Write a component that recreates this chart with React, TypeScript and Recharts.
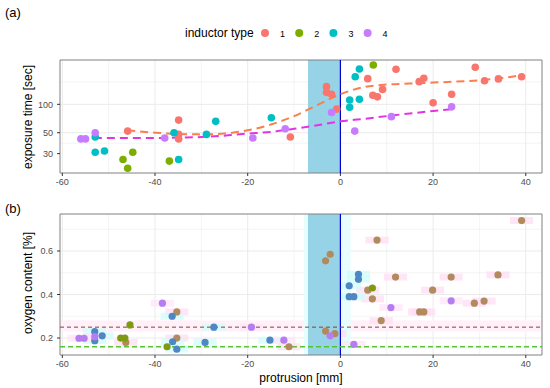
import {
  CartesianGrid,
  ComposedChart,
  Line,
  ReferenceArea,
  ReferenceLine,
  Scatter,
  XAxis,
  YAxis,
} from 'recharts';

// axis breaks
const xTicks = [-60, -40, -20, 0, 20, 40];
const xMinor = [-50, -30, -10, 10, 30];
const timeTicks = [30, 50, 100];
const timeMinor = [38.7, 173];
const oxyTicks = [0.2, 0.4, 0.6];
const oxyMinor = [0.3, 0.5, 0.7];
const inductorTypes = ['1', '2', '3', '4'];

// (a) exposure time [sec] per inductor type
const t1X = [-45.9, -34.9, -34.9, -34.9, -10.8, -3.0, -3.0, -1.9, -0.8, 5.9, 12.0, 7.0, 8.0, 9.1, 17.0, 18.0, 20.0, 24.0, 29.1, 31.1, 34.1, 39.1];
const t1Y = [52, 68, 48, 43, 45, 154, 134, 128, 89, 187, 235, 125, 120, 144, 174, 189, 104, 128, 247, 178, 186, 196];
const t2X = [-46.9, -45.9, -44.8, -36.9, 7.1];
const t2Y = [26, 21, 31, 25, 261];
const t3X = [-52.9, -52.9, -50.9, -35.9, -34.9, -28.9, -26.9, -14.9, 2.0, 2.0, 3.2, 4.1, 4.1];
const t3Y = [45, 31, 32, 50, 26, 48, 66, 72, 111, 93, 196, 237, 113];
const t4X = [-56.0, -55.0, -52.9, -37.9, -18.9, -11.9, -1.9, 3.1, 11.0, 24.0];
const t4Y = [43, 43, 50, 44, 44, 55, 82, 52, 74, 94];

// (a) dashed trends
const fit1X = [-46, -40, -35, -30, -25, -20, -15, -10, -5, 0, 5, 10, 15, 20, 25, 30, 35, 39];
const fit1Y = [53, 50, 48.5, 48, 49, 53, 61, 75, 98, 128, 152, 162, 166, 170, 174, 180, 190, 204];
const fit4X = [-56, -50, -40, -35, -30, -25, -20, -15, -10, -5, 0, 5, 10, 15, 20, 24];
const fit4Y = [44, 44, 44, 44.5, 45, 46.5, 49, 51, 55, 60, 66, 70, 75, 80, 85, 89];

// (b) oxygen content [%] per inductor type
const o1X = [-46.3, -35.3, -35.3, -11.1, -3.2, -2.2, -3.2, -1.2, 5.9, 6.9, 7.9, 8.8, 11.9, 17.1, 18.0, 19.9, 23.9, 28.9, 31.0, 34.0, 39.1];
const o1Y = [0.18, 0.32, 0.2, 0.16, 0.555, 0.585, 0.232, 0.22, 0.42, 0.38, 0.65, 0.28, 0.48, 0.32, 0.32, 0.42, 0.48, 0.36, 0.37, 0.49, 0.74];
const o2X = [-47.4, -46.5, -45.4, -37.4, 6.9];
const o2Y = [0.2, 0.2, 0.26, 0.16, 0.43];
const o3X = [-53.0, -53.0, -51.4, -36.3, -36.2, -35.3, -29.2, -27.3, -15.2, 1.9, 1.9, 2.9, 3.9, 3.9];
const o3Y = [0.229, 0.188, 0.21, 0.3, 0.183, 0.149, 0.18, 0.25, 0.19, 0.44, 0.39, 0.39, 0.493, 0.47];
const o4X = [-56.4, -55.3, -53.0, -38.4, -19.2, -12.2, -2.2, 2.9, 10.9, 23.9];
const o4Y = [0.199, 0.199, 0.206, 0.36, 0.25, 0.19, 0.21, 0.171, 0.34, 0.371];

const limit1 = 0.25;
const limit2 = 0.16;
const zoneX = [-7, 0];

const xDomain = [-60.5, 43.5];
const timeDomain = [18.7, 295];
const oxyDomain = [0.122, 0.77];

const typeColors = ['#F8766D', '#7CAE00', '#00BFC4', '#C77CFF'];
const oxyColors = ['#b38a5e', '#7d9a12', '#4f86c4', '#b57df0'];

const zip = (xs: number[], ys: number[]) => xs.map((x, i) => ({ x, y: ys[i] }));

const font = '"Liberation Sans", Arial, sans-serif';
const tick = { fontSize: 9, fill: '#4d4d4d', fontFamily: font };

const dot = (color: string, r: number) => (p: any) =>
  <circle cx={p.cx} cy={p.cy} r={r} fill={color} />;

function PanelA() {
  const series = [zip(t1X, t1Y), zip(t2X, t2Y), zip(t3X, t3Y), zip(t4X, t4Y)];
  return (
    <ComposedChart width={550} height={190} margin={{ top: 60, right: 8, bottom: 0, left: 0 }}>
      <CartesianGrid stroke="#ececec" strokeWidth={0.6} horizontalValues={timeMinor} verticalValues={xMinor} />
      <CartesianGrid stroke="#ebebeb" strokeWidth={1} horizontalValues={timeTicks} verticalValues={xTicks} />
      <XAxis dataKey="x" type="number" domain={xDomain} ticks={xTicks} allowDataOverflow
        height={17} tick={tick} tickSize={3} tickMargin={3} axisLine={false} tickLine={{ stroke: '#333' }} />
      <YAxis type="number" scale="log" domain={timeDomain} ticks={timeTicks} allowDataOverflow
        width={60} tick={tick} tickSize={3} tickMargin={4} axisLine={false} tickLine={{ stroke: '#333' }} />
      <ReferenceArea x1={zoneX[0]} x2={zoneX[1]} y1={timeDomain[0]} y2={timeDomain[1]} fill="#96d3e6" fillOpacity={1} stroke="none" />
      <ReferenceLine x={0} stroke="#0000cd" strokeWidth={1.2} />
      {series.map((d, i) => (
        <Scatter key={i} data={d} dataKey="y" isAnimationActive={false} shape={dot(typeColors[i], 3.8)} />
      ))}
      <Line data={zip(fit1X, fit1Y)} dataKey="y" type="monotone" stroke="#fb7f4c" strokeWidth={2}
        strokeDasharray="8 5" dot={false} isAnimationActive={false} />
      <Line data={zip(fit4X, fit4Y)} dataKey="y" type="monotone" stroke="#e234e2" strokeWidth={2}
        strokeDasharray="8 5" dot={false} isAnimationActive={false} />
      <ReferenceArea x1={xDomain[0]} x2={xDomain[1]} y1={timeDomain[0]} y2={timeDomain[1]} fill="none" stroke="#808080" strokeWidth={1} />
    </ComposedChart>
  );
}

function PanelB() {
  const series = [zip(o1X, o1Y), zip(o2X, o2Y), zip(o3X, o3Y), zip(o4X, o4Y)];
  const boxFill = ['#ffdcf4', null, '#cffcfc', '#ffe4f8'];
  return (
    <ComposedChart width={550} height={185} margin={{ top: 24, right: 8, bottom: 0, left: 0 }}>
      <CartesianGrid stroke="#ececec" strokeWidth={0.6} horizontalValues={oxyMinor} verticalValues={xMinor} />
      <CartesianGrid stroke="#ebebeb" strokeWidth={1} horizontalValues={oxyTicks} verticalValues={xTicks} />
      <XAxis dataKey="x" type="number" domain={xDomain} ticks={xTicks} allowDataOverflow
        height={20} tick={tick} tickSize={3} tickMargin={3} axisLine={false} tickLine={{ stroke: '#333' }} />
      <YAxis type="number" domain={oxyDomain} ticks={oxyTicks} allowDataOverflow
        width={60} tick={tick} tickSize={3} tickMargin={4} axisLine={false} tickLine={{ stroke: '#333' }} />
      <ReferenceArea x1={xDomain[0]} x2={xDomain[1]} y1={0.23} y2={0.28} fill="#fff0fa" fillOpacity={1} stroke="none" />
      <ReferenceArea x1={-7.9} x2={2.2} y1={oxyDomain[0]} y2={oxyDomain[1]} fill="#e8fefe" fillOpacity={1} stroke="none" />
      {series.map((d, i) =>
        boxFill[i]
          ? d.map((p, j) => (
              <ReferenceArea key={`b${i}-${j}`} x1={p.x - 2.5} x2={p.x + 2.5} y1={p.y - 0.016} y2={p.y + 0.016}
                fill={boxFill[i] as string} fillOpacity={0.7} stroke="none" ifOverflow="hidden" />
            ))
          : null
      )}
      <ReferenceArea x1={zoneX[0]} x2={zoneX[1]} y1={oxyDomain[0]} y2={oxyDomain[1]} fill="#96d3e6" fillOpacity={1} stroke="none" />
      <ReferenceLine x={0} stroke="#0000cd" strokeWidth={1.2} />
      <ReferenceLine y={limit1} stroke="#7a4a2a" strokeWidth={1} strokeDasharray="4 3" />
      <ReferenceLine y={limit2} stroke="#55c433" strokeWidth={1.5} strokeDasharray="5 3" />
      {series.map((d, i) => (
        <Scatter key={i} data={d} dataKey="y" isAnimationActive={false} shape={dot(oxyColors[i], 3.6)} />
      ))}
      <ReferenceArea x1={xDomain[0]} x2={xDomain[1]} y1={oxyDomain[0]} y2={oxyDomain[1]} fill="none" stroke="#808080" strokeWidth={1} />
    </ComposedChart>
  );
}

export default function App() {
  return (
    <div style={{ position: 'absolute', left: 0, top: 0, width: 550, height: 388, background: '#fff', fontFamily: font }}>
      <div style={{ position: 'absolute', left: 0, top: 0 }}>
        <PanelA />
      </div>
      <div style={{ position: 'absolute', left: 0, top: 190 }}>
        <PanelB />
      </div>
      <svg width={550} height={388} style={{ position: 'absolute', left: 0, top: 0, pointerEvents: 'none' }}>
        <text x={5} y={17} fontSize={13} fontFamily={font} fill="#000">(a)</text>
        <text x={5} y={213} fontSize={13} fontFamily={font} fill="#000">(b)</text>
        <text x={185} y={37} fontSize={12} fontFamily={font} fill="#000">inductor type</text>
        {inductorTypes.map((t, i) => (
          <g key={t}>
            <circle cx={265 + i * 34.2} cy={33} r={4} fill={typeColors[i]} />
            <text x={280 + i * 34.2} y={36.5} fontSize={9} fontFamily={font} fill="#000">{t}</text>
          </g>
        ))}
        <text transform="translate(32,117) rotate(-90)" textAnchor="middle" fontSize={12} fontFamily={font} fill="#000">
          exposure time [sec]
        </text>
        <text transform="translate(32,283) rotate(-90)" textAnchor="middle" fontSize={12} fontFamily={font} fill="#000">
          oxygen content [%]
        </text>
        <text x={301} y={382} textAnchor="middle" fontSize={12} fontFamily={font} fill="#000">protrusion [mm]</text>
      </svg>
    </div>
  );
}
